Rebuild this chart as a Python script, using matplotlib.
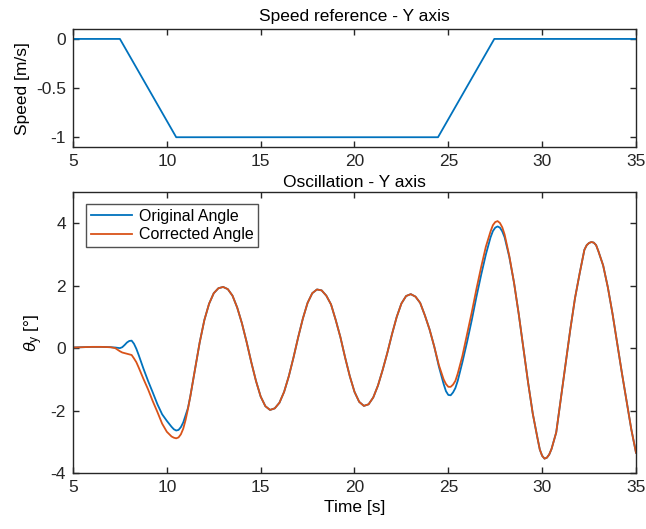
import numpy as np
import matplotlib.pyplot as plt

plt.rcParams['font.family'] = ['Liberation Sans', 'DejaVu Sans']
plt.rcParams['mathtext.fontset'] = 'custom'
plt.rcParams['mathtext.rm'] = 'Liberation Sans'
plt.rcParams['mathtext.it'] = 'Liberation Sans:italic'

# referencja predkosci (punkty zalamania trapezu)
speed_time = [5, 7.5, 10.5, 24.45, 27.45, 35]
speed_value = [0, 0, -1, -1, 0, 0]

# czas probek oscylacji (gesciej przy ekstremach)
time = [
    5.0, 5.5, 6.0, 6.5, 7.0, 7.25, 7.5, 7.625, 7.75, 7.875, 8.0, 8.125, 8.25, 8.375, 8.5,
    8.75, 9.0, 9.25, 9.5, 9.75, 10.0, 10.25, 10.375, 10.5, 10.625, 10.75, 10.875, 11.0,
    11.125, 11.25, 11.5, 11.75, 12.0, 12.25, 12.5, 12.75, 13.0, 13.25, 13.5, 13.75,
    14.0, 14.25, 14.5, 14.75, 15.0, 15.25, 15.5, 15.75, 16.0, 16.25, 16.5, 16.75,
    17.0, 17.25, 17.5, 17.75, 18.0, 18.25, 18.5, 18.75, 19.0, 19.25, 19.5, 19.75,
    20.0, 20.25, 20.5, 20.75, 21.0, 21.25, 21.5, 21.75, 22.0, 22.25, 22.5, 22.75,
    23.0, 23.25, 23.5, 23.75, 24.0, 24.25, 24.5, 24.75, 24.875, 25.0, 25.125, 25.25,
    25.375, 25.5, 25.75, 26.0, 26.25, 26.5, 26.75, 27.0, 27.25, 27.375, 27.5, 27.625,
    27.75, 27.875, 28.0, 28.25, 28.5, 28.75, 29.0, 29.25, 29.5, 29.75, 29.875, 30.0,
    30.125, 30.25, 30.375, 30.5, 30.625, 30.75, 31.0, 31.25, 31.5, 31.75, 32.0, 32.25,
    32.375, 32.5, 32.625, 32.75, 32.875, 33.0, 33.25, 33.5, 33.75, 34.0, 34.25, 34.5,
    34.75, 35.0,
]

# kat oryginalny
original_angle = [
    0.02, 0.03, 0.04, 0.04, 0.03, 0.02, 0.0, 0.03, 0.1, 0.18, 0.23, 0.24, 0.14, -0.02, -0.22,
    -0.65, -1.05, -1.42, -1.8, -2.12, -2.33, -2.52, -2.6, -2.64, -2.62, -2.53, -2.38, -2.15,
    -1.92, -1.55, -0.68, 0.18, 0.9, 1.42, 1.76, 1.92, 1.96, 1.89, 1.68, 1.3,
    0.8, 0.2, -0.45, -1.05, -1.55, -1.86, -1.98, -1.93, -1.75, -1.4, -0.9, -0.3,
    0.35, 0.95, 1.45, 1.76, 1.88, 1.85, 1.68, 1.4, 0.9, 0.35, -0.3, -0.9,
    -1.4, -1.72, -1.85, -1.8, -1.58, -1.2, -0.7, -0.15, 0.45, 1.0, 1.43, 1.67,
    1.73, 1.65, 1.45, 1.05, 0.6, 0.05, -0.6, -1.15, -1.38, -1.5, -1.51, -1.42,
    -1.28, -1.05, -0.45, 0.2, 0.9, 1.65, 2.35, 3.0, 3.55, 3.75, 3.86, 3.9,
    3.86, 3.74, 3.55, 2.92, 2.1, 1.1, 0.0, -1.1, -2.1, -2.88, -3.25, -3.45,
    -3.54, -3.51, -3.41, -3.23, -2.97, -2.7, -1.6, -0.5, 0.6, 1.6, 2.4, 3.15,
    3.3, 3.37, 3.4, 3.38, 3.3, 3.1, 2.65, 1.95, 1.1, 0.15, -0.8, -1.7,
    -2.6, -3.35,
]

# kat skorygowany
corrected_angle = [
    0.02, 0.03, 0.04, 0.04, 0.03, 0.0, -0.1, -0.14, -0.16, -0.18, -0.2, -0.22, -0.33, -0.45, -0.62,
    -0.98, -1.32, -1.7, -2.05, -2.42, -2.68, -2.83, -2.87, -2.89, -2.86, -2.76, -2.58, -2.3,
    -1.95, -1.55, -0.68, 0.18, 0.9, 1.42, 1.76, 1.92, 1.96, 1.89, 1.68, 1.3,
    0.8, 0.2, -0.45, -1.05, -1.55, -1.86, -1.98, -1.93, -1.75, -1.4, -0.9, -0.3,
    0.35, 0.95, 1.45, 1.76, 1.88, 1.85, 1.68, 1.4, 0.9, 0.35, -0.3, -0.9,
    -1.4, -1.72, -1.85, -1.8, -1.58, -1.2, -0.7, -0.15, 0.45, 1.0, 1.43, 1.67,
    1.73, 1.65, 1.45, 1.05, 0.6, 0.05, -0.55, -1.0, -1.15, -1.24, -1.24, -1.17,
    -1.05, -0.82, -0.25, 0.45, 1.15, 1.9, 2.6, 3.25, 3.74, 3.94, 4.04, 4.07,
    4.01, 3.87, 3.64, 2.95, 2.1, 1.1, 0.0, -1.1, -2.1, -2.88, -3.25, -3.45,
    -3.54, -3.51, -3.41, -3.23, -2.97, -2.7, -1.6, -0.5, 0.6, 1.6, 2.4, 3.15,
    3.3, 3.37, 3.4, 3.38, 3.3, 3.1, 2.65, 1.95, 1.1, 0.15, -0.8, -1.7,
    -2.6, -3.35,
]

blue = '#0072BD'
orange = '#D95319'
axis_color = '#262626'


def matlab_style(ax):
    ax.tick_params(direction='in', top=True, right=True, length=4, width=1,
                   colors=axis_color, labelsize=12.5, pad=5)
    for s in ax.spines.values():
        s.set_color(axis_color)
        s.set_linewidth(1.0)


fig = plt.figure(figsize=(6.46, 5.29), dpi=100)

ax1 = fig.add_axes([0.113, 0.722, 0.8715, 0.223])
ax1.plot(speed_time, speed_value, color=blue, linewidth=1.3)
ax1.set_xlim(5, 35)
ax1.set_ylim(-1.1, 0.1)
ax1.set_yticks([-1, -0.5, 0])
ax1.set_yticklabels(['-1', '-0.5', '0'])
ax1.set_xticks(range(5, 36, 5))
ax1.set_title('Speed reference - Y axis', fontsize=12.5, pad=6)
ax1.set_ylabel('Speed [m/s]', fontsize=12.5)
matlab_style(ax1)

ax2 = fig.add_axes([0.113, 0.1059, 0.8715, 0.531])
ax2.plot(time, original_angle, color=blue, linewidth=1.3, label='Original Angle')
ax2.plot(time, corrected_angle, color=orange, linewidth=1.3, label='Corrected Angle')
ax2.set_xlim(5, 35)
ax2.set_ylim(-4, 5)
ax2.set_yticks([-4, -2, 0, 2, 4])
ax2.set_yticklabels(['-4', '-2', '0', '2', '4'])
ax2.set_xticks(range(5, 36, 5))
ax2.set_title('Oscillation - Y axis', fontsize=12.5, pad=4)
ax2.set_xlabel('Time [s]', fontsize=12.5)
ax2.set_ylabel(r'$\theta_\mathrm{y}$ [°]', fontsize=12.5)
matlab_style(ax2)

leg = ax2.legend(loc='upper left', bbox_to_anchor=(0.023, 0.957), fontsize=11.5,
                 frameon=True, fancybox=False, edgecolor=axis_color,
                 handlelength=2.6, handletextpad=0.4, borderpad=0.3,
                 labelspacing=0.2, borderaxespad=0)
leg.get_frame().set_linewidth(1.0)

fig.savefig('out.png', dpi=100)
